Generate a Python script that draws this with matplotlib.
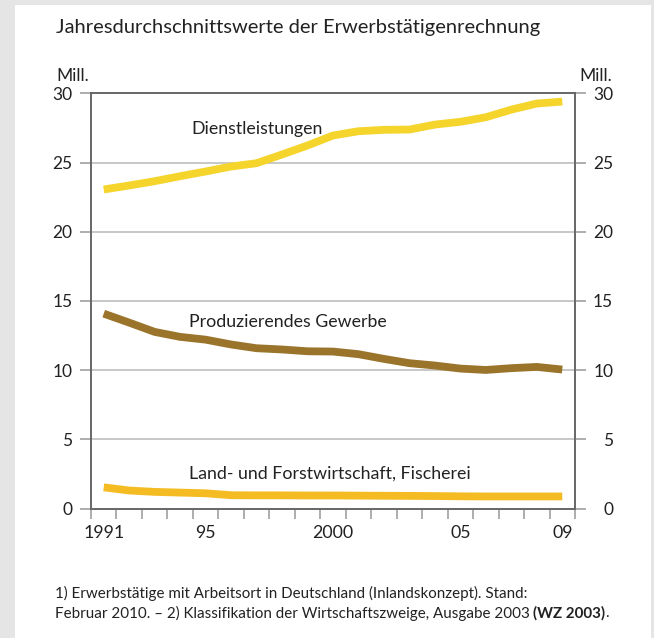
import matplotlib
matplotlib.use("Agg")
import matplotlib.pyplot as plt
from matplotlib.patches import Rectangle
from matplotlib.ticker import FixedLocator

# ---- data ----
years = list(range(1991, 2010))
dienstleistungen = [23.05, 23.34, 23.65, 24.01, 24.35, 24.71, 24.95, 25.58, 26.23, 26.95,
                    27.26, 27.36, 27.38, 27.74, 27.94, 28.27, 28.82, 29.26, 29.40]
produzierendes = [14.08, 13.43, 12.76, 12.40, 12.20, 11.85, 11.58, 11.49, 11.36, 11.34,
                  11.15, 10.81, 10.50, 10.33, 10.11, 10.01, 10.14, 10.23, 10.04]
land = [1.53, 1.30, 1.20, 1.15, 1.10, 0.96, 0.95, 0.95, 0.94, 0.94,
        0.93, 0.92, 0.91, 0.90, 0.88, 0.87, 0.87, 0.87, 0.87]
xtick_years = [1991, 1995, 2000, 2005, 2009]
xtick_labels = ["1991", "95", "2000", "05", "09"]
yticks = [0, 5, 10, 15, 20, 25, 30]
series_names = ["Dienstleistungen", "Produzierendes Gewerbe",
                "Land- und Forstwirtschaft, Fischerei"]
title = "Jahresdurchschnittswerte der Erwerbstätigenrechnung"
unit = "Mill."
foot1 = "1) Erwerbstätige mit Arbeitsort in Deutschland (Inlandskonzept). Stand:"
foot2a = "Februar 2010. – 2) Klassifikation der Wirtschaftszweige, Ausgabe 2003"
foot2b = "(WZ 2003)"
foot2c = "."

plt.rcParams['font.family'] = ['Lato', 'DejaVu Sans']

W, H = 654, 638
fig = plt.figure(figsize=(W / 100, H / 100), dpi=100, facecolor="#e5e5e5")


def fx(px):
    return px / W


def fy(py):
    return 1 - py / H


# white panel
fig.patches.append(Rectangle((fx(15), 0), fx(651) - fx(15), fy(5), transform=fig.transFigure,
                             facecolor="white", edgecolor="none", zorder=-10))

ax = fig.add_axes([fx(91), fy(508.5), fx(575) - fx(91), fy(93.3) - fy(508.5)])
ax.set_facecolor("white")

c_dienst = "#f5d42c"
c_prod = "#9b742b"
c_land = "#f4bb22"
lw = 5.6
ax.plot(years, dienstleistungen, color=c_dienst, lw=lw, solid_capstyle="butt", zorder=3)
ax.plot(years, produzierendes, color=c_prod, lw=lw, solid_capstyle="butt", zorder=3)
ax.plot(years, land, color=c_land, lw=lw, solid_capstyle="butt", zorder=3)

ax.set_xlim(1990.5, 2009.5)
ax.set_ylim(0, 30)

# y axis
ax.set_yticks(yticks)
ax.set_yticklabels([str(v) for v in yticks])
ax.tick_params(axis="y", which="major", direction="out", length=8, width=1.2,
               color="#a0a0a0", labelsize=12.5, pad=5.5, labelcolor="#222222",
               left=True, right=True, labelleft=True, labelright=False)
for v in yticks[1:-1]:
    ax.axhline(v, color="#c4c4c4", lw=1.3, zorder=1)

ax2 = ax.twinx()
ax2.set_ylim(0, 30)
ax2.set_yticks(yticks)
ax2.set_yticklabels([str(v) for v in yticks])
ax2.tick_params(axis="y", direction="out", length=8, width=1.2, color="#a0a0a0",
                labelsize=12.5, pad=19.5, labelcolor="#222222")
plt.setp(ax2.get_yticklabels(), ha="right")
for a in (ax, ax2):
    for s in a.spines.values():
        s.set_color("#666666")
        s.set_linewidth(1.2)

# x axis
ax.xaxis.set_major_locator(FixedLocator(xtick_years))
ax.set_xticklabels(xtick_labels)
ax.xaxis.set_minor_locator(FixedLocator([y + 0.5 for y in range(1990, 2010)]))
ax.tick_params(axis="x", which="major", length=0, labelsize=12.8, pad=12,
               labelcolor="#222222")
ax.tick_params(axis="x", which="minor", direction="out", length=7, width=1.2,
               color="#a0a0a0")

# series labels
lfs = 12.8
ax.text(1994.45, 27.45, series_names[0], fontsize=lfs, va="center", ha="left", color="#222222")
ax.text(1994.35, 13.48, series_names[1], fontsize=lfs, va="center", ha="left", color="#222222")
ax.text(1994.35, 2.49, series_names[2], fontsize=lfs, va="center", ha="left", color="#222222")

# titles and units
fig.text(fx(56.5), fy(27.5), title, fontsize=14.5, va="center", ha="left", color="#222222")
fig.text(fx(56.5), fy(76), unit, fontsize=12.5, va="center", ha="left", color="#222222")
fig.text(fx(579), fy(76), unit, fontsize=12.5, va="center", ha="left", color="#222222")

# footnotes
fs = 10.9
fig.text(fx(55), fy(593), foot1, fontsize=fs, va="center", ha="left", color="#222222")
t2 = fig.text(fx(55), fy(613), foot2a, fontsize=fs, va="center", ha="left", color="#222222")
r = fig.canvas.get_renderer()
bb = t2.get_window_extent(renderer=r)
t3 = fig.text((bb.x1 + 3.5) / W, fy(613), foot2b, fontsize=fs, va="center", ha="left",
              color="#222222", fontweight="bold")
bb3 = t3.get_window_extent(renderer=r)
fig.text((bb3.x1 - 0.5) / W, fy(613), foot2c, fontsize=fs, va="center", ha="left",
         color="#222222")

fig.savefig("out.png", dpi=100, facecolor=fig.get_facecolor())
